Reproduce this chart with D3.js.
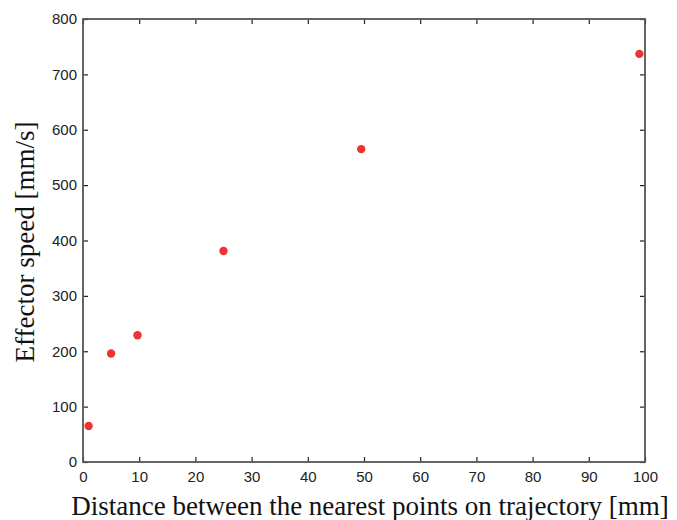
<!DOCTYPE html>
<html>
<head>
<meta charset="utf-8">
<script src="https://cdn.jsdelivr.net/npm/d3@7"></script>
<style>
  body { margin: 0; background: #fff; }
  svg { display: block; }
</style>
</head>
<body>
<svg id="chart" width="677" height="520"></svg>
<script>
// Effector speed vs distance between nearest trajectory points
const distance = [1, 5, 9.7, 25, 49.5, 99];
const speed = [65, 196, 229, 381, 565, 737];
const xTicks = [0, 10, 20, 30, 40, 50, 60, 70, 80, 90, 100];
const yTicks = [0, 100, 200, 300, 400, 500, 600, 700, 800];

const svg = d3.select("#chart");
const margin = {top: 19, right: 32, bottom: 58, left: 83};
const width = 677 - margin.left - margin.right;
const height = 520 - margin.top - margin.bottom;

const x = d3.scaleLinear().domain([0, 100]).range([0, width]);
const y = d3.scaleLinear().domain([0, 800]).range([height, 0]);

const g = svg.append("g").attr("transform", `translate(${margin.left},${margin.top})`);

const axisColor = "#555";

// ticks go inward, mirrored on top and right
function styleAxis(sel) {
  sel.select(".domain").remove();
  sel.selectAll(".tick line").attr("stroke", "#222").attr("stroke-width", 1.2);
  sel.selectAll(".tick text")
    .style("font-family", "Arial, 'Liberation Sans', sans-serif")
    .style("font-size", "15px")
    .attr("fill", "#222");
}

g.append("g")
  .attr("transform", `translate(0,${height})`)
  .call(d3.axisBottom(x).tickValues(xTicks).tickSizeInner(-5).tickSizeOuter(0).tickPadding(9))
  .call(styleAxis);

g.append("g")
  .call(d3.axisTop(x).tickValues(xTicks).tickSizeInner(-5).tickSizeOuter(0).tickFormat(""))
  .call(styleAxis);

g.append("g")
  .call(d3.axisLeft(y).tickValues(yTicks).tickSizeInner(-5).tickSizeOuter(0).tickPadding(6))
  .call(styleAxis);

g.append("g")
  .attr("transform", `translate(${width},0)`)
  .call(d3.axisRight(y).tickValues(yTicks).tickSizeInner(-5).tickSizeOuter(0).tickFormat(""))
  .call(styleAxis);

// frame
g.append("rect")
  .attr("width", width)
  .attr("height", height)
  .attr("fill", "none")
  .attr("stroke", axisColor)
  .attr("stroke-width", 1.8);

g.selectAll("circle.pt")
  .data(distance.map((d, i) => ({d, s: speed[i]})))
  .join("circle")
  .attr("class", "pt")
  .attr("cx", p => x(p.d))
  .attr("cy", p => y(p.s))
  .attr("r", 4.2)
  .attr("fill", "#ee3333");

svg.append("text")
  .attr("x", 370)
  .attr("y", 515)
  .attr("text-anchor", "middle")
  .style("font-family", "'Liberation Serif', 'Times New Roman', serif")
  .style("font-size", "27px")
  .attr("fill", "#111")
  .text("Distance between the nearest points on trajectory [mm]");

svg.append("text")
  .attr("transform", `translate(34,242) rotate(-90)`)
  .attr("text-anchor", "middle")
  .style("font-family", "'Liberation Serif', 'Times New Roman', serif")
  .style("font-size", "27px")
  .attr("fill", "#111")
  .text("Effector speed [mm/s]");
</script>
</body>
</html>
